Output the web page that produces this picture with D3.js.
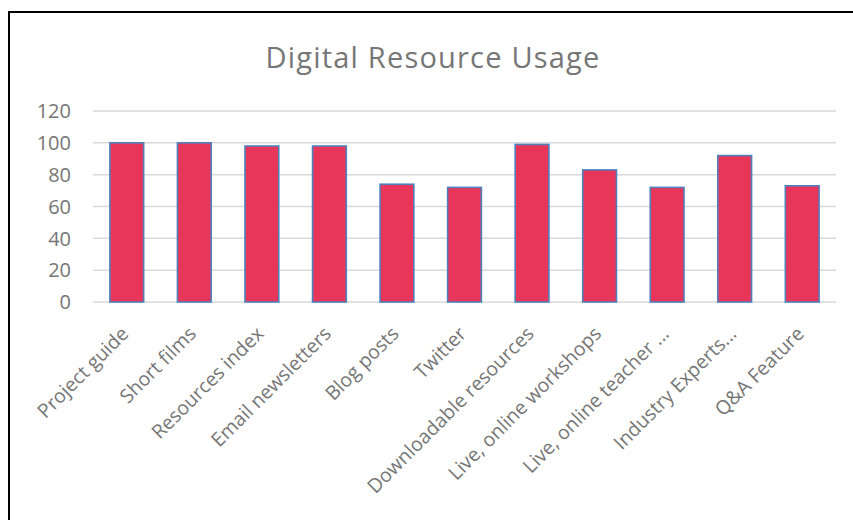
<!DOCTYPE html>
<html><head><meta charset="utf-8">
<script src="https://cdn.jsdelivr.net/npm/d3@7"></script>
<style>
html,body{margin:0;padding:0;background:#fff;}
svg{display:block;}
text{font-family:"Open Sans",sans-serif;}
</style></head>
<body>
<svg id="chart" width="853" height="520"></svg>
<script>
const categories = ["Project guide","Short films","Resources index","Email newsletters","Blog posts","Twitter","Downloadable resources","Live, online workshops","Live, online teacher ...","Industry Experts...","Q&A Feature"];
const values = [100,100,98,98,74,72,99,83,72,92,73];
const yTicks = [0,20,40,60,80,100,120];
const title = "Digital Resource Usage";

const svg = d3.select("#chart");
const W = 853, H = 520;
const m = {left:93, right:17, top:111, bottom:218};

svg.append("rect").attr("x",9).attr("y",12).attr("width",W+10).attr("height",H+10)
  .attr("fill","#fff").attr("stroke","#000").attr("stroke-width",2);

const x = d3.scaleBand().domain(categories).range([m.left, W-m.right]).paddingInner(0.5).paddingOuter(0.25);
const y = d3.scaleLinear().domain([0,120]).range([H-m.bottom, m.top]);

// gridlines
svg.append("g").selectAll("line").data(yTicks).join("line")
  .attr("x1",m.left).attr("x2",W-m.right)
  .attr("y1",d=>y(d)).attr("y2",d=>y(d))
  .attr("stroke","#d9d9d9").attr("stroke-width",1.5);

// y axis labels
const yAxis = d3.axisLeft(y).tickValues(yTicks).tickSize(0).tickPadding(0);
const gy = svg.append("g").attr("transform",`translate(${m.left-22},0)`).call(yAxis);
gy.select(".domain").remove();
gy.selectAll("text").attr("font-family","Open Sans, sans-serif").attr("font-size",20).attr("fill","#767676").attr("dy","0.34em");

// bars
svg.append("g").selectAll("rect").data(values).join("rect")
  .attr("x",(d,i)=>x(categories[i]))
  .attr("width",x.bandwidth())
  .attr("y",d=>y(d))
  .attr("height",d=>y(0)-y(d))
  .attr("fill","#E8365A")
  .attr("stroke","#4F81BD").attr("stroke-width",1.6);

// x axis labels
const xAxis = d3.axisBottom(x).tickSize(0).tickPadding(0);
const gx = svg.append("g").attr("transform",`translate(0,${y(0)})`).call(xAxis);
gx.select(".domain").remove();
gx.selectAll("text")
  .attr("font-family","Open Sans, sans-serif").attr("font-size",19.5).attr("fill","#767676")
  .attr("text-anchor","end").attr("dy",null).attr("y",null)
  .attr("transform","translate(3,33) rotate(-45)");

// title
svg.append("text").attr("x",433).attr("y",68).attr("text-anchor","middle")
  .attr("font-size",29).attr("letter-spacing",1.2).attr("fill","#767676").text(title);
</script>
</body></html>
